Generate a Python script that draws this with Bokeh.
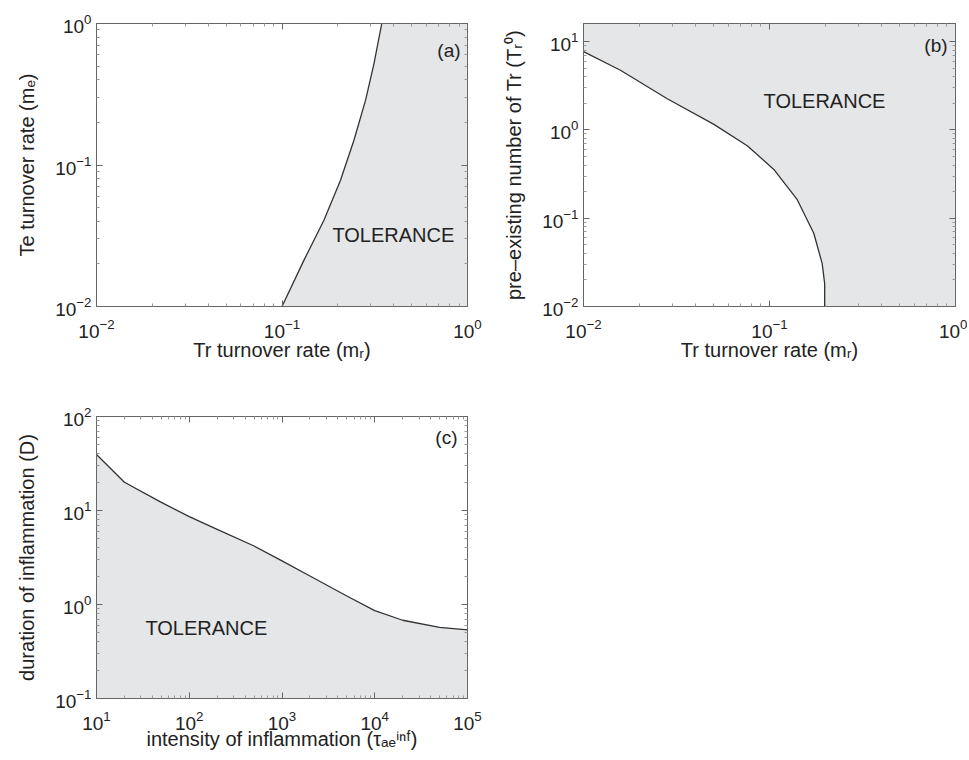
from bokeh.plotting import figure
from bokeh.layouts import gridplot
from bokeh.models import LogAxis, FixedTicker, Label, Range1d, CustomJSTickFormatter
from bokeh.embed import file_html
from bokeh.resources import INLINE

# ---------------- data ----------------
# Panel (a): boundary Te turnover rate vs Tr turnover rate
a_mr = [0.100, 0.131, 0.168, 0.2065, 0.244, 0.282, 0.313, 0.345]
a_me = [0.010, 0.0211, 0.0405, 0.0777, 0.149, 0.286, 0.519, 1.000]
a_xticks = [0.01, 0.1, 1.0]
a_yticks = [0.01, 0.1, 1.0]

# Panel (b): boundary pre-existing Tr vs Tr turnover rate
b_mr = [0.0100, 0.0158, 0.0282, 0.0500, 0.0759, 0.1055, 0.141, 0.173, 0.192, 0.198, 0.198]
b_T0 = [7.70, 4.73, 2.25, 1.16, 0.66, 0.356, 0.162, 0.0675, 0.0306, 0.018, 0.010]
b_xticks = [0.01, 0.1, 1.0]
b_yticks = [0.01, 0.1, 1.0, 10.0]

# Panel (c): boundary duration vs intensity of inflammation
c_tau = [10, 20, 50, 100, 200, 500, 1000, 2000, 5000, 10000, 20000, 50000, 100000]
c_D = [39.4, 20.0, 12.2, 8.6, 6.3, 4.19, 2.91, 2.01, 1.23, 0.86, 0.68, 0.57, 0.537]
c_xticks = [10, 100, 1000, 10000, 100000]
c_yticks = [0.1, 1.0, 10.0, 100.0]

A_X = (0.01, 1.0); A_Y = (0.01, 1.0)
B_X = (0.01, 1.0); B_Y = (0.01, 16.0)
C_X = (10, 100000); C_Y = (0.1, 100.0)

FONT = "Liberation Sans"
TXT = "#222222"
FILL = "#e5e6e8"
LINE = "#333333"
FRAME = "#666666"


def minors(ticks, top):
    out = []
    for t in ticks:
        for m in range(2, 10):
            if m * t < top:
                out.append(m * t)
    return out


def style_axis(ax):
    ax.axis_line_color = FRAME
    ax.major_tick_in = 6
    ax.major_tick_out = 0
    ax.minor_tick_in = 3
    ax.minor_tick_out = 0
    ax.major_tick_line_color = FRAME
    ax.minor_tick_line_color = "#9a9a9a"
    ax.major_label_text_font = FONT
    ax.major_label_text_font_size = "19px"
    ax.major_label_text_color = TXT
    ax.axis_label_text_font = FONT
    ax.axis_label_text_font_size = "20px"
    ax.axis_label_text_font_style = "normal"
    ax.axis_label_text_color = TXT


def make(xr, yr, xticks, yticks, fw, fh, bl, br, bt, bb, xlabel, ylabel, xstand):
    p = figure(x_axis_type="log", y_axis_type="log",
               x_range=Range1d(*xr), y_range=Range1d(*yr),
               frame_width=fw, frame_height=fh,
               width=fw + bl + br, height=fh + bt + bb,
               min_border_left=bl, min_border_right=br,
               min_border_top=bt, min_border_bottom=bb,
               output_backend="svg", toolbar_location=None)
    p.xgrid.grid_line_color = None
    p.ygrid.grid_line_color = None
    p.outline_line_color = FRAME
    p.outline_line_width = 1
    p.background_fill_color = "white"
    p.border_fill_color = "white"
    bottom = p.below[0]
    left = p.left[0]
    bottom.ticker = FixedTicker(ticks=xticks, minor_ticks=minors(xticks, xr[1]))
    left.ticker = FixedTicker(ticks=yticks, minor_ticks=minors(yticks, yr[1]))
    blank = CustomJSTickFormatter(code="return ''")
    p.add_layout(LogAxis(ticker=FixedTicker(ticks=xticks, minor_ticks=minors(xticks, xr[1])),
                         formatter=blank, major_label_standoff=0), "above")
    p.add_layout(LogAxis(ticker=FixedTicker(ticks=yticks, minor_ticks=minors(yticks, yr[1])),
                         formatter=blank, major_label_standoff=0), "right")
    for ax in p.axis:
        style_axis(ax)
    bottom.axis_label = xlabel
    left.axis_label = ylabel
    bottom.major_label_standoff = 12
    left.major_label_standoff = 5
    bottom.axis_label_standoff = xstand
    left.axis_label_standoff = 14
    return p


def tag(p, x, y, text, align, size="19px"):
    p.add_layout(Label(x=x, y=y, text=text, text_align=align, text_baseline="middle",
                       text_font=FONT, text_font_size=size, text_color=TXT))


# ---------- (a) ----------
pa = make(A_X, A_Y, a_xticks, a_yticks, 371, 283, 96, 18, 23, 80,
          "Tr turnover rate (mᵣ)", "Te turnover rate (mₑ)", -2)
pa.patch(a_mr + [A_X[1], A_X[1]], a_me + [A_Y[1], A_Y[0]],
         fill_color=FILL, line_color=None)
pa.line(a_mr, a_me, line_color=LINE, line_width=1.3)
tag(pa, 0.917, 0.644, "(a)", "right")
tag(pa, 0.187, 0.0318, "TOLERANCE", "left", "20px")

# ---------- (b) ----------
pb = make(B_X, B_Y, b_xticks, b_yticks, 372, 283, 98, 12, 23, 80,
          "Tr turnover rate (mᵣ)", "pre–existing number of Tr (Tᵣ⁰)", -2)
pb.patch(b_mr + [B_X[1], B_X[1], B_X[0]], b_T0 + [B_Y[0], B_Y[1], B_Y[1]],
         fill_color=FILL, line_color=None)
pb.line(b_mr, b_T0, line_color=LINE, line_width=1.3)
tag(pb, 0.906, 9.0, "(b)", "right")
tag(pb, 0.0929, 2.14, "TOLERANCE", "left", "20px")

# ---------- (c) ----------
pc = make(C_X, C_Y, c_xticks, c_yticks, 371, 282, 96, 18, 30, 50,
          "intensity of inflammation (τₐₑⁱⁿᶠ)", "duration of inflammation (D)", -5)
pc.patch(c_tau + [C_X[1], C_X[0]], c_D + [C_Y[0], C_Y[0]],
         fill_color=FILL, line_color=None)
pc.line(c_tau, c_D, line_color=LINE, line_width=1.3)
tag(pc, 78000, 59.8, "(c)", "right")
tag(pc, 33.7, 0.569, "TOLERANCE", "left", "20px")

grid = gridplot([[pa, pb], [pc, None]], toolbar_location=None)

open("out.html", "w").write(file_html(grid, INLINE))
